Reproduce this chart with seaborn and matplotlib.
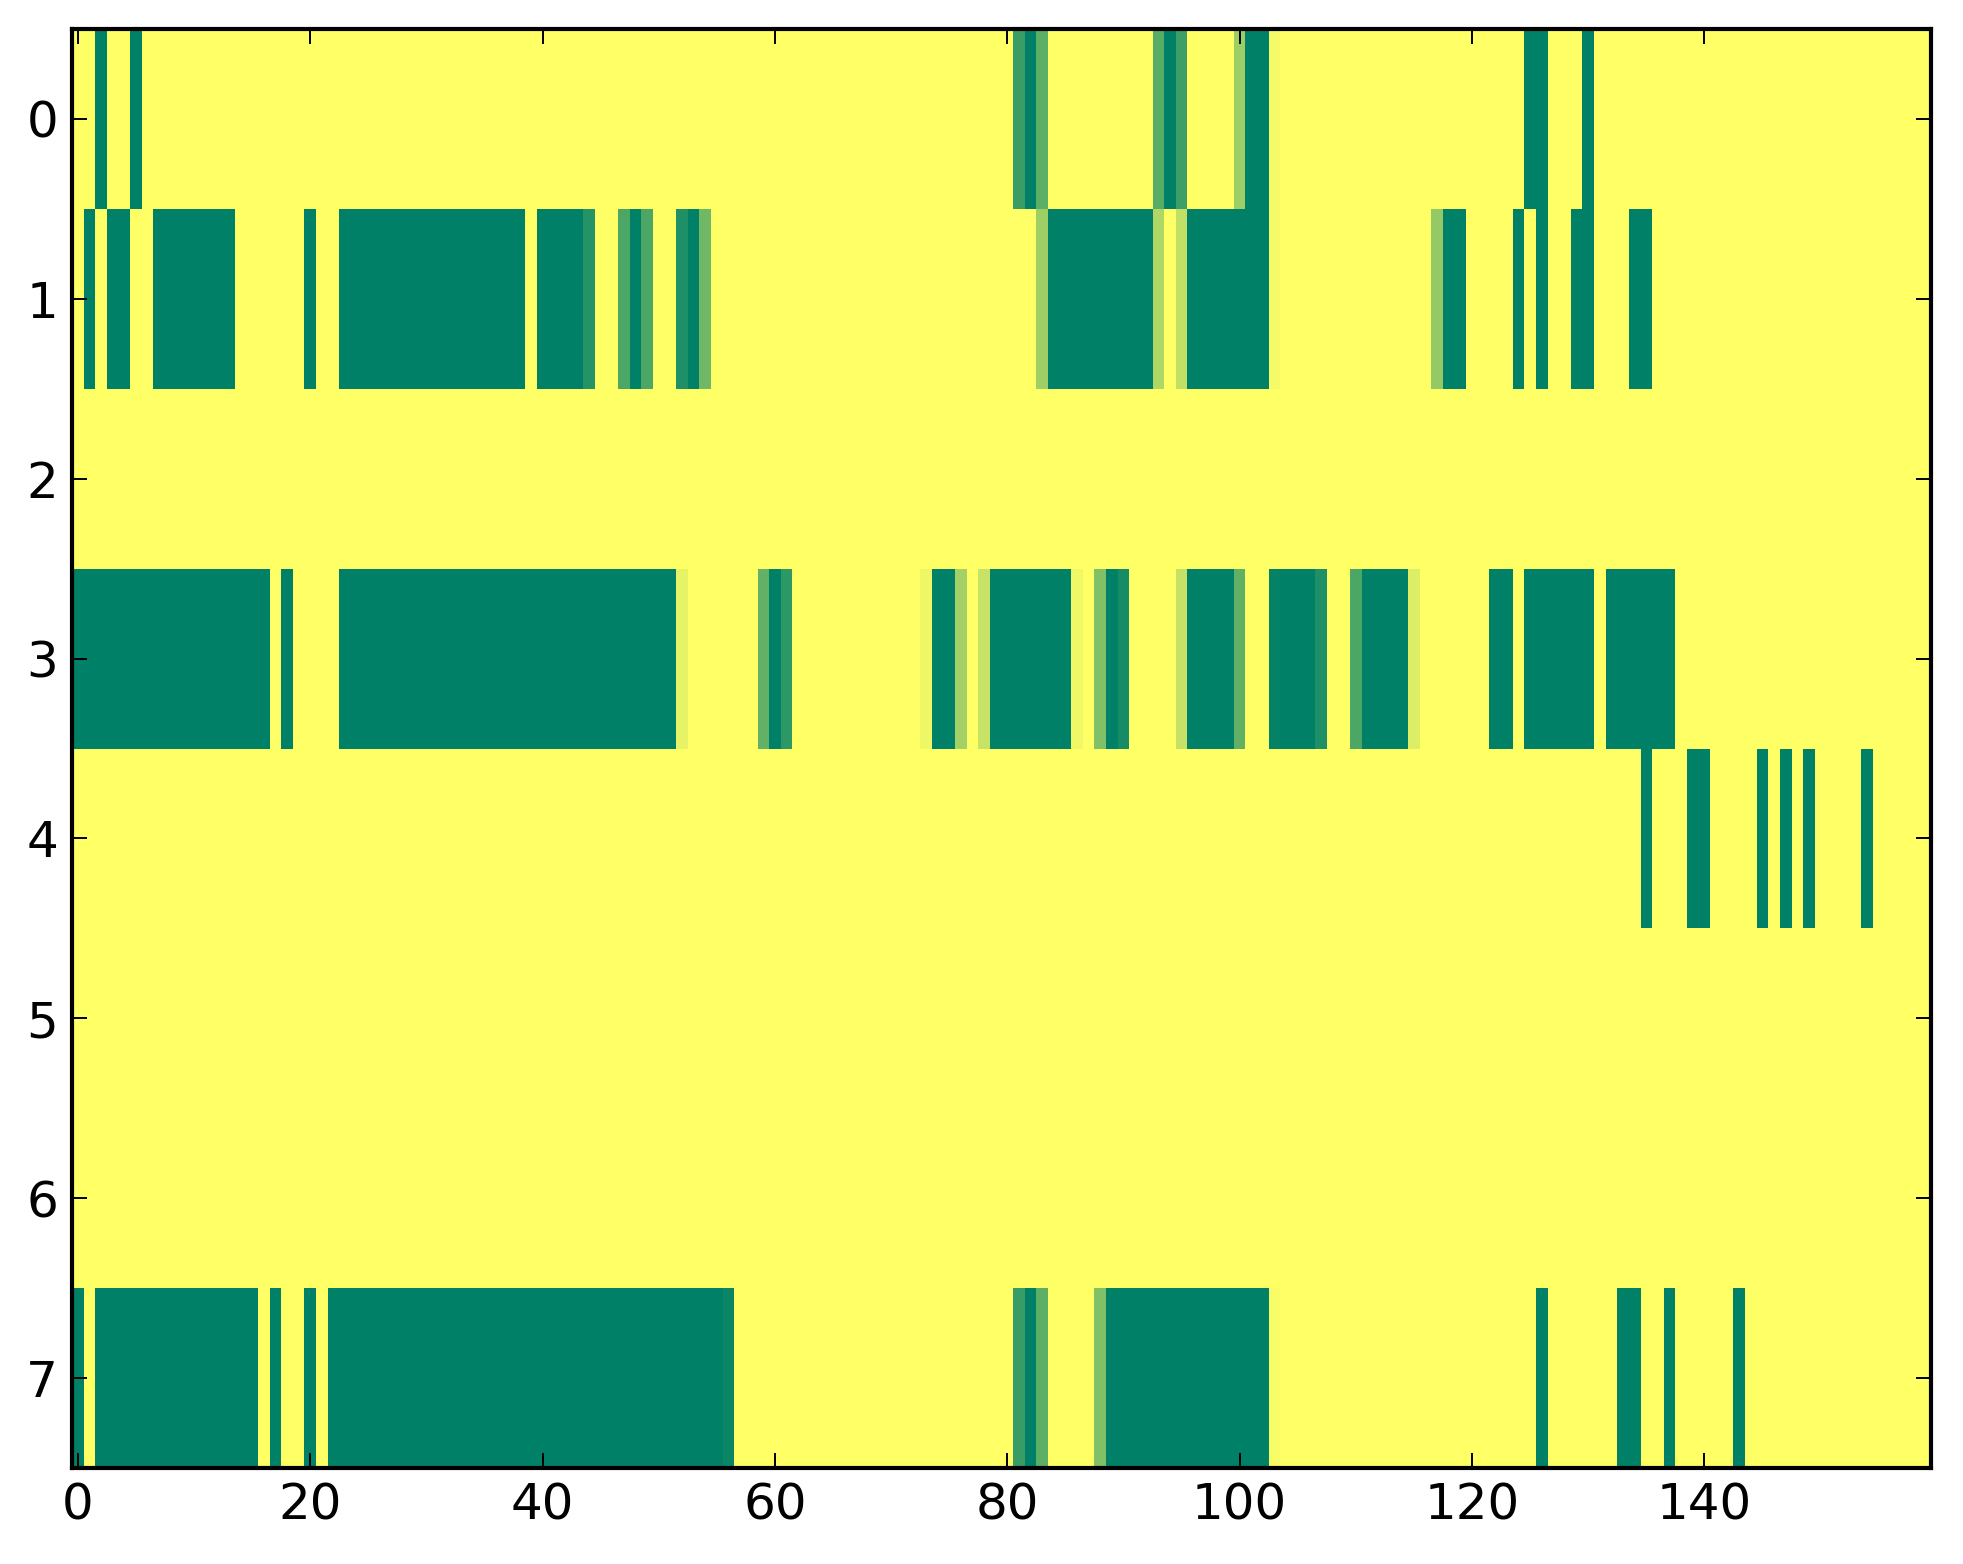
import numpy as np
import pandas as pd
import matplotlib
matplotlib.use("Agg")
import matplotlib.pyplot as plt
import seaborn as sns

# ---- data: (first column, last column, value); every other cell is 1.0 ----
n_rows = 8
n_cols = 160
row_labels = [str(i) for i in range(n_rows)]
xtick_values = [0, 20, 40, 60, 80, 100, 120, 140]

row0_runs = [(2, 2, 0), (5, 5, 0), (81, 81, 0.23), (82, 82, 0), (83, 83, 0.37),
             (93, 93, 0.35), (94, 94, 0), (95, 95, 0.24), (100, 100, 0.61),
             (101, 102, 0), (103, 103, 0.96), (125, 126, 0), (130, 130, 0)]
row1_runs = [(1, 1, 0), (3, 4, 0), (7, 13, 0), (20, 20, 0), (23, 38, 0), (40, 43, 0),
             (44, 44, 0.15), (47, 47, 0.30), (48, 48, 0), (49, 49, 0.30),
             (52, 52, 0.12), (53, 53, 0), (54, 54, 0.44), (83, 83, 0.62),
             (84, 92, 0), (93, 93, 0.68), (95, 95, 0.75), (96, 102, 0),
             (103, 103, 0.96), (117, 117, 0.58), (118, 119, 0), (124, 124, 0),
             (126, 126, 0), (129, 130, 0), (134, 135, 0)]
row2_runs = []
row3_runs = [(0, 16, 0), (18, 18, 0), (23, 51, 0), (52, 52, 0.90), (59, 59, 0.39),
             (60, 60, 0), (61, 61, 0.18), (73, 73, 0.93), (74, 75, 0), (76, 76, 0.64),
             (78, 78, 0.78), (79, 85, 0), (86, 86, 0.94), (88, 88, 0.50), (89, 89, 0),
             (90, 90, 0.09), (95, 95, 0.77), (96, 99, 0), (100, 100, 0.38),
             (103, 103, 0.02), (104, 106, 0), (107, 107, 0.12), (110, 110, 0.30),
             (111, 114, 0), (115, 115, 0.86), (122, 123, 0), (125, 130, 0), (132, 137, 0)]
row4_runs = [(135, 135, 0), (139, 140, 0), (145, 145, 0), (147, 147, 0),
             (149, 149, 0), (154, 154, 0)]
row5_runs = []
row6_runs = []
row7_runs = [(0, 0, 0), (2, 15, 0), (17, 17, 0), (20, 20, 0), (22, 55, 0),
             (56, 56, 0.04), (81, 81, 0.22), (82, 82, 0), (83, 83, 0.37),
             (88, 88, 0.50), (89, 102, 0), (103, 103, 0.97), (126, 126, 0),
             (133, 134, 0), (137, 137, 0), (143, 143, 0)]

all_runs = [row0_runs, row1_runs, row2_runs, row3_runs,
            row4_runs, row5_runs, row6_runs, row7_runs]

matrix = np.ones((n_rows, n_cols))
for r, runs in enumerate(all_runs):
    for a, b, v in runs:
        matrix[r, a:b + 1] = v
df = pd.DataFrame(matrix, index=row_labels, columns=range(n_cols))

# ---- plot ----
plt.rcParams["font.family"] = ["DejaVu Sans"]
plt.rcParams["text.color"] = "black"
plt.rcParams["xtick.color"] = "black"
plt.rcParams["ytick.color"] = "black"
plt.rcParams["xtick.labelcolor"] = "black"
plt.rcParams["ytick.labelcolor"] = "black"

fig = plt.figure(figsize=(19.63, 15.64), dpi=100)
ax = fig.add_axes([72 / 1963, 1 - 1468 / 1564, (1931 - 72) / 1963, (1468 - 29) / 1564])

sns.heatmap(df, ax=ax, cmap="summer", vmin=0, vmax=1, cbar=False,
            xticklabels=False, yticklabels=False)

ax.set_xticks([v + 0.5 for v in xtick_values])
ax.set_xticklabels([str(v) for v in xtick_values], rotation=0)
ax.set_yticks([i + 0.5 for i in range(n_rows)])
ax.set_yticklabels(row_labels, rotation=0)
ax.set_xlabel("")
ax.set_ylabel("")

for sp in ax.spines.values():
    sp.set_visible(True)
    sp.set_color("black")
    sp.set_linewidth(3.0)
    sp.set_zorder(5)

ax.tick_params(axis="both", which="major", direction="in", length=11, width=1.4,
               color="black", labelcolor="black", labelsize=36, pad=10,
               top=True, right=True, bottom=True, left=True,
               labeltop=False, labelright=False, labelbottom=True, labelleft=True)
ax.set_axisbelow(False)
for t in ax.xaxis.get_major_ticks() + ax.yaxis.get_major_ticks():
    for line in (t.tick1line, t.tick2line):
        line.set_zorder(6)

fig.savefig("out.png", dpi=100)
